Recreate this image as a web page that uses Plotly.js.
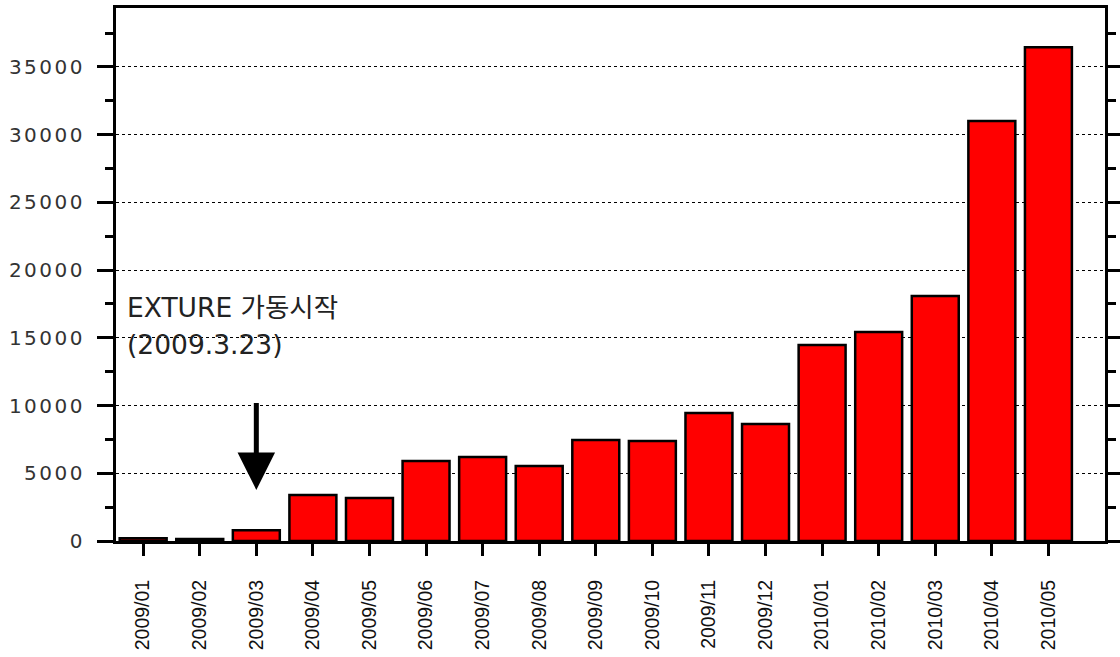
<!DOCTYPE html>
<html>
<head>
<meta charset="utf-8">
<script src="https://cdn.plot.ly/plotly-3.0.1.min.js"></script>
<style>
html,body{margin:0;padding:0;background:#fff;}
#chart{width:1120px;height:657px;}
.yaxislayer-above .ytick text{letter-spacing:2.5px;}
</style>
</head>
<body>
<div id="chart"></div>
<script>
const months = ["2009/01","2009/02","2009/03","2009/04","2009/05","2009/06","2009/07","2009/08","2009/09","2009/10","2009/11","2009/12","2010/01","2010/02","2010/03","2010/04","2010/05"];
const counts = [200,150,800,3400,3170,5900,6200,5540,7460,7380,9450,8640,14470,15430,18090,31010,36450];
const yTicks = [0,5000,10000,15000,20000,25000,30000,35000];
const noteLine1 = "EXTURE 가동시작";
const noteLine2 = "(2009.3.23)";
const arrowMonth = "2009/03";
const arrowTip = 3770;
const arrowTail = 10300;

const trace = {
  type: 'bar',
  x: months,
  y: counts,
  width: 0.83,
  marker: {color: '#ff0000', line: {color: '#000', width: 2.5}},
  hoverinfo: 'x+y'
};
const trace2 = {type:'scatter', x:[months[0]], y:[0], yaxis:'y2', mode:'markers', marker:{opacity:0}, hoverinfo:'skip', showlegend:false};

const yr = [0, 39350];
const noteFont = {family:'DejaVu Sans, Noto Sans CJK KR, sans-serif', size:26.5, color:'#222'};
const layout = {
  width: 1120, height: 657,
  margin: {l:116, r:15, t:8, b:116},
  paper_bgcolor: '#fff', plot_bgcolor: '#fff',
  showlegend: false,
  xaxis: {
    type: 'category',
    range: [-0.48, 17],
    showline: true, linecolor: '#000', linewidth: 3, mirror: true,
    ticks: 'outside', ticklen: 12, tickwidth: 3, tickcolor: '#000',
    tickangle: -90,
    ticklabelstandoff: 16,
    tickfont: {family: 'Liberation Sans, Arial, sans-serif', size: 19.5, color: '#111'},
    showgrid: false, zeroline: false, fixedrange: true
  },
  yaxis: {
    range: yr,
    tickvals: yTicks,
    ticktext: yTicks.map(String),
    showline: true, linecolor: '#000', linewidth: 3, mirror: true,
    ticks: 'outside', ticklen: 16, tickwidth: 3, tickcolor: '#000',
    ticklabelstandoff: 8,
    minor: {dtick: 2500, tick0: 0, ticks: 'outside', ticklen: 8, tickwidth: 3, tickcolor: '#000', showgrid: false},
    tickfont: {family: 'DejaVu Sans, sans-serif', size: 20, color: '#333'},
    showgrid: true, gridcolor: '#000', gridwidth: 1, griddash: 'dot',
    zeroline: false, fixedrange: true
  },
  yaxis2: {
    range: yr, overlaying: 'y', side: 'right',
    tickvals: yTicks, showticklabels: false,
    ticks: 'outside', ticklen: 16, tickwidth: 3, tickcolor: '#000',
    minor: {dtick: 2500, tick0: 0, ticks: 'outside', ticklen: 8, tickwidth: 3, tickcolor: '#000', showgrid: false},
    showline: true, linecolor: '#000', linewidth: 3,
    showgrid: false, zeroline: false, fixedrange: true
  },
  annotations: [
    {xref:'paper', yref:'y', x:0.009, y:(541-308)/13.543*1000, xanchor:'left', yanchor:'middle',
     text: noteLine1, showarrow:false, font: noteFont},
    {xref:'paper', yref:'y', x:0.009, y:(541-345)/13.543*1000, xanchor:'left', yanchor:'middle',
     text: noteLine2, showarrow:false, font: noteFont},
    {xref:'x', yref:'y', x: arrowMonth, y: arrowTip, axref:'x', ayref:'y', ax: arrowMonth, ay: arrowTail,
     text:'', showarrow:true, arrowhead:2, arrowsize:1.5, arrowwidth:5, arrowcolor:'#000'}
  ]
};

Plotly.newPlot('chart', [trace, trace2], layout, {displayModeBar:false, staticPlot:true});
</script>
</body>
</html>
